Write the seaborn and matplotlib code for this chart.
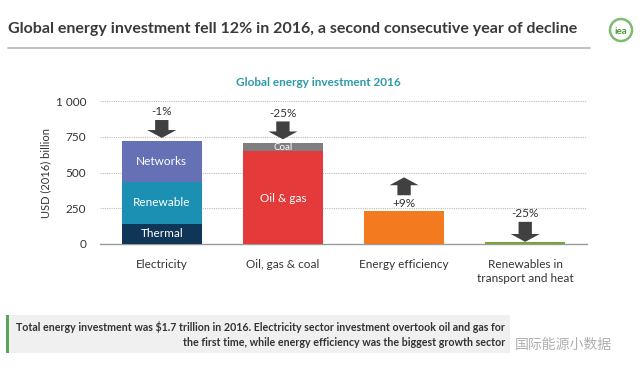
import matplotlib
matplotlib.use("Agg")
import matplotlib.pyplot as plt
import seaborn as sns
import pandas as pd
from matplotlib.patches import FancyArrow, Rectangle, Ellipse

# ---------------- data ----------------
categories = ["Electricity", "Oil, gas & coal", "Energy efficiency",
              "Renewables in\ntransport and heat"]
# stacked segments (bottom -> top), USD (2016) billion
elec_segments = ["Thermal", "Renewable", "Networks"]
elec_values = [140, 297, 280]
fossil_segments = ["Oil & gas", "Coal"]
fossil_values = [649, 58]
efficiency_value = 231
ren_heat_value = 15
changes = ["-1%", "-25%", "+9%", "-25%"]
yticks = [0, 250, 500, 750, 1000]
ytick_labels = ["0", "250", "500", "750", "1 000"]

seg_colors = {"Thermal": "#0f3557", "Renewable": "#1b90b3", "Networks": "#6671b5",
              "Oil & gas": "#e43a3a", "Coal": "#7f7f7f",
              "Energy efficiency": "#f47a20", "Renewables": "#78a53a"}

# ---------------- figure ----------------
sns.set_theme(style="white")
plt.rcParams["font.family"] = ["Lato", "DejaVu Sans"]
fig = plt.figure(figsize=(6.43, 3.72), dpi=100)
ax = fig.add_axes([100 / 643, 1 - 244 / 372, 487 / 643, 143 / 372])

elec_cum = [sum(elec_values[:i + 1]) for i in range(len(elec_values))]
fossil_cum = [sum(fossil_values[:i + 1]) for i in range(len(fossil_values))]

layers = [
    {categories[0]: (elec_cum[2], seg_colors["Networks"]),
     categories[1]: (fossil_cum[1], seg_colors["Coal"]),
     categories[2]: (efficiency_value, seg_colors["Energy efficiency"]),
     categories[3]: (ren_heat_value, seg_colors["Renewables"])},
    {categories[0]: (elec_cum[1], seg_colors["Renewable"]),
     categories[1]: (fossil_cum[0], seg_colors["Oil & gas"])},
    {categories[0]: (elec_cum[0], seg_colors["Thermal"])},
]
for layer in layers:
    df = pd.DataFrame({"cat": list(layer.keys()),
                       "val": [v[0] for v in layer.values()]})
    pal = {k: v[1] for k, v in layer.items()}
    sns.barplot(data=df, x="cat", y="val", hue="cat", palette=pal, order=categories,
                hue_order=list(layer.keys()), width=0.66, legend=False,
                saturation=1, ax=ax, linewidth=0, zorder=3)

ax.set_xlim(-0.51, 3.51)
ax.set_ylim(0, 1000)
ax.set_yticks(yticks)
ax.set_yticklabels(ytick_labels, fontsize=8.5, color="#333333")
ax.set_xticks(range(len(categories)))
ax.set_xticklabels(categories, fontsize=8.5, color="#333333", linespacing=1.3)
ax.tick_params(axis="x", length=0, pad=11)
ax.tick_params(axis="y", length=0, pad=10)
ax.set_xlabel("")
ax.set_ylabel("USD (2016) billion", fontsize=8, color="#333333", labelpad=3)
for y in yticks[1:]:
    ax.axhline(y, color="#bdbdbd", lw=0.8, ls=(0, (1, 1)), zorder=1)
for s in ["top", "right", "left"]:
    ax.spines[s].set_visible(False)
ax.spines["bottom"].set_color("#9a9a9a")
ax.spines["bottom"].set_linewidth(1.0)
ax.set_facecolor("none")

def seg_label(x, lo, hi, text, size=8.5):
    ax.text(x, (lo + hi) / 2, text, ha="center", va="center", color="white",
            fontsize=size, zorder=5)

seg_label(0, 0, elec_cum[0], "Thermal")
seg_label(0, elec_cum[0], elec_cum[1], "Renewable")
seg_label(0, elec_cum[1], elec_cum[2], "Networks")
seg_label(1, 0, fossil_cum[0] * 0.99, "Oil & gas")
seg_label(1, fossil_cum[0], fossil_cum[1], "Coal", size=7)

arrow_kw = dict(width=0.11, head_width=0.24, head_length=55,
                length_includes_head=True, color="#404040", clip_on=False, zorder=6, lw=0)
tops = [elec_cum[-1], fossil_cum[-1], efficiency_value, ren_heat_value]
for i in (0, 1):
    ax.add_patch(FancyArrow(i, tops[i] + 150, 0, -125, **arrow_kw))
    ax.text(i, tops[i] + 207, changes[i], ha="center", va="center",
            fontsize=8.5, color="#333333")
ax.add_patch(FancyArrow(2, tops[2] + 110, 0, 125, **arrow_kw))
ax.text(2, tops[2] + 55, changes[2], ha="center", va="center", fontsize=8.5, color="#333333")
ax.add_patch(FancyArrow(3, tops[3] + 140, 0, -140, **arrow_kw))
ax.text(3, tops[3] + 195, changes[3], ha="center", va="center", fontsize=8.5, color="#333333")

# ---------------- titles / decorations ----------------
fig.text(8 / 643, 1 - 29 / 372, "Global energy investment fell 12% in 2016, a second consecutive year of decline",
         fontsize=11.5, fontweight="bold", color="#3a3a3a", ha="left", va="center")
fig.add_artist(plt.Line2D([8 / 643, 590 / 643], [1 - 48 / 372, 1 - 48 / 372],
                          color="#b5b5b5", lw=1.2))
fig.add_artist(Ellipse((621 / 643, 1 - 30 / 372), 22 / 643, 22 / 372, fill=False,
                       edgecolor="#7dbb6e", lw=1.8))
fig.text(621 / 643, 1 - 32 / 372, "iea", fontsize=7, color="#4a9a3a",
         ha="center", va="center", fontweight="bold")
fig.text(318 / 643, 1 - 82 / 372, "Global energy investment 2016", fontsize=8.5,
         fontweight="bold", color="#2c9aa8", ha="center", va="center")

fig.add_artist(Rectangle((6 / 643, 1 - 353 / 372), 504 / 643, 38 / 372,
                         facecolor="#f0f0f0", edgecolor="none"))
fig.add_artist(Rectangle((6 / 643, 1 - 353 / 372), 3 / 643, 38 / 372,
                         facecolor="#5aa55a", edgecolor="none"))
fig.text(505 / 643, 1 - 327 / 372,
         "Total energy investment was $1.7 trillion in 2016. Electricity sector investment overtook oil and gas for",
         fontsize=7.7, fontweight="bold", color="#333333", ha="right", va="center")
fig.text(505 / 643, 1 - 343 / 372,
         "the first time, while energy efficiency was the biggest growth sector",
         fontsize=7.7, fontweight="bold", color="#333333", ha="right", va="center")
fig.text(515 / 643, 1 - 345 / 372, "国际能源小数据", fontsize=10, color="#a0a0a0",
         alpha=0.85, ha="left", va="center", family=["Noto Sans CJK SC", "DejaVu Sans"])

fig.savefig("out.png", dpi=100)
